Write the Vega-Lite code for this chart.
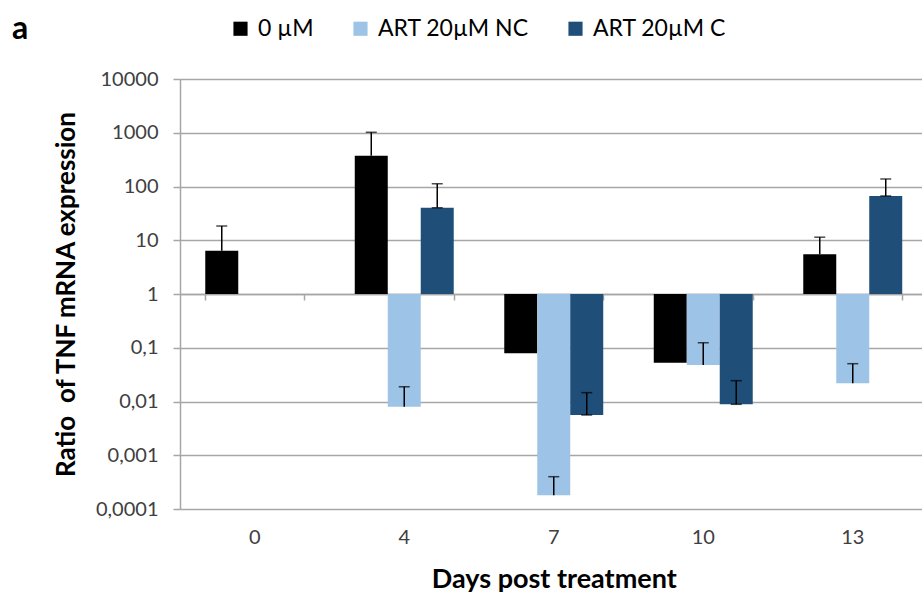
{
  "$schema": "https://vega.github.io/schema/vega-lite/v6.json",
  "width": 742,
  "height": 430,
  "autosize": {"type": "none"},
  "padding": {"left": 180, "top": 79, "right": 0, "bottom": 85},
  "background": "white",
  "config": {"font": "Lato", "view": {"stroke": null}},
  "title": {"text": "a", "anchor": "start", "frame": "group", "fontSize": 32, "fontWeight": "bold", "color": "#000000", "dx": -168, "dy": 29, "offset": 0},
  "data": {"values": [
    {"day": "0", "series": "0 µM", "value": 6.39, "err": 18.4},
    {"day": "4", "series": "0 µM", "value": 374, "err": 1020},
    {"day": "4", "series": "ART 20µM NC", "value": 0.0080, "err": 0.0188},
    {"day": "4", "series": "ART 20µM C", "value": 40.3, "err": 113},
    {"day": "7", "series": "0 µM", "value": 0.0788, "err": null},
    {"day": "7", "series": "ART 20µM NC", "value": 0.00018, "err": 0.000399},
    {"day": "7", "series": "ART 20µM C", "value": 0.00561, "err": 0.0146},
    {"day": "10", "series": "0 µM", "value": 0.0527, "err": null},
    {"day": "10", "series": "ART 20µM NC", "value": 0.0478, "err": 0.124},
    {"day": "10", "series": "ART 20µM C", "value": 0.00887, "err": 0.0244},
    {"day": "13", "series": "0 µM", "value": 5.48, "err": 11.4},
    {"day": "13", "series": "ART 20µM NC", "value": 0.0218, "err": 0.0505},
    {"day": "13", "series": "ART 20µM C", "value": 66.6, "err": 138}
  ]},
  "resolve": {"axis": {"x": "independent"}},
  "layer": [
    {
      "mark": {"type": "bar"},
      "encoding": {
        "x": {"field": "day", "type": "ordinal", "sort": ["0", "4", "7", "10", "13"],
          "scale": {"range": [0, 747.5], "paddingInner": 0.338, "paddingOuter": 0.169},
          "axis": {"orient": "bottom", "ticks": false, "domain": false, "labelAngle": 0, "labelFontSize": 20, "labelColor": "#404040", "labelPadding": 18,
            "title": "Days post treatment", "titleFontSize": 27, "titleFontWeight": "bold", "titleColor": "#000000", "titlePadding": 19}},
        "xOffset": {"field": "series", "type": "nominal", "scale": {"domain": ["0 µM", "ART 20µM NC", "ART 20µM C"]}},
        "y": {"field": "value", "type": "quantitative",
          "scale": {"type": "log", "domain": [0.0001, 10000]},
          "axis": {"values": [0.0001, 0.001, 0.01, 0.1, 1, 10, 100, 1000, 10000],
            "labelExpr": "datum.value >= 1 ? format(datum.value, 'd') : replace(format(datum.value, '.4~f'), '.', ',')",
            "labelFontSize": 20, "labelColor": "#404040", "labelPadding": 15,
            "grid": true, "gridColor": "#A6A6A6", "gridWidth": 1.5,
            "domainColor": "#A6A6A6", "domainWidth": 1.5, "tickColor": "#A6A6A6", "tickWidth": 1.5, "tickSize": 7,
            "title": "Ratio \u00a0of TNF mRNA expression", "titleFontSize": 26, "titleFontWeight": "bold", "titleColor": "#000000", "titlePadding": 16}},
        "y2": {"datum": 1},
        "color": {"field": "series", "type": "nominal",
          "scale": {"domain": ["0 µM", "ART 20µM NC", "ART 20µM C"], "range": ["#000000", "#9DC3E6", "#1F4E79"]},
          "legend": {"orient": "none", "legendX": 49, "legendY": -62, "direction": "horizontal", "title": null,
            "symbolType": "square", "symbolSize": 200, "symbolStrokeWidth": 0, "labelFontSize": 23, "labelColor": "#000000",
            "columnPadding": 35, "symbolOffset": 0, "labelOffset": 6}}
      }
    },
    {
      "mark": {"type": "rule", "color": "#000000", "strokeWidth": 1.5},
      "encoding": {
        "x": {"field": "day", "type": "ordinal", "sort": ["0", "4", "7", "10", "13"],
          "axis": {"orient": "bottom", "offset": -215, "labels": false, "title": null, "tickBand": "extent",
            "domain": true, "domainColor": "#A6A6A6", "domainWidth": 1.5, "tickColor": "#A6A6A6", "tickWidth": 1.5, "tickSize": 6}},
        "xOffset": {"field": "series", "type": "nominal"},
        "y": {"field": "value", "type": "quantitative"},
        "y2": {"field": "err"}
      }
    },
    {
      "mark": {"type": "tick", "color": "#000000", "thickness": 1.5, "size": 11, "orient": "horizontal"},
      "encoding": {
        "x": {"field": "day", "type": "ordinal", "sort": ["0", "4", "7", "10", "13"], "axis": null},
        "xOffset": {"field": "series", "type": "nominal"},
        "y": {"field": "err", "type": "quantitative"}
      }
    },
    {
      "transform": [{"filter": "datum.series == 'ART 20µM C'"}],
      "mark": {"type": "tick", "color": "#000000", "thickness": 1.5, "size": 11, "orient": "horizontal"},
      "encoding": {
        "x": {"field": "day", "type": "ordinal", "sort": ["0", "4", "7", "10", "13"], "axis": null},
        "xOffset": {"field": "series", "type": "nominal"},
        "y": {"field": "value", "type": "quantitative"}
      }
    }
  ]
}
